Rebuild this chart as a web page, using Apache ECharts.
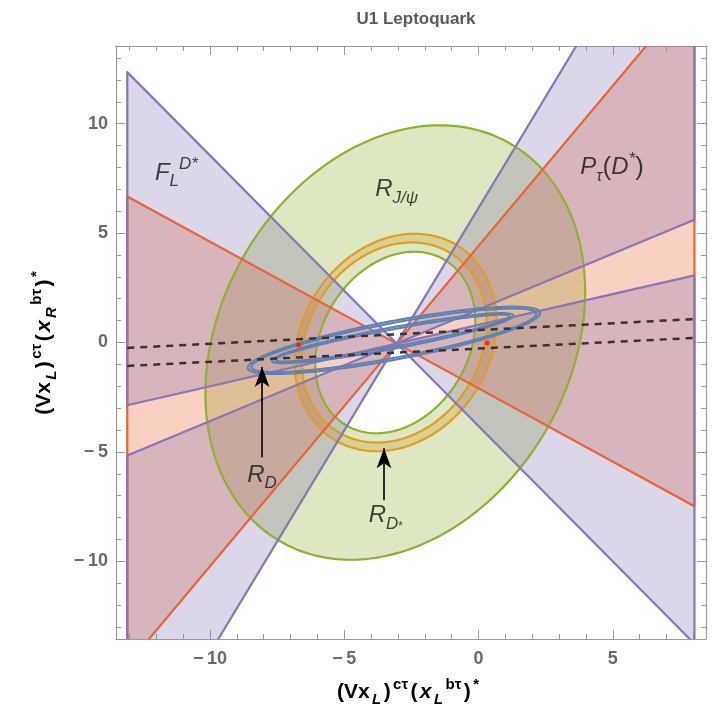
<!DOCTYPE html>
<html>
<head>
<meta charset="utf-8">
<script src="https://cdn.jsdelivr.net/npm/echarts@6/dist/echarts.min.js"></script>
<style>
  html, body { margin: 0; padding: 0; background: #ffffff; }
  #chart { width: 718px; height: 721px; }
</style>
</head>
<body>
<div id="chart"></div>
<script>
// ---- plot window ----
const xRange = [-13.5, 8.47];
const yRange = [-13.55, 13.55];
const xMajor = [-10, -5, 0, 5];
const yMajor = [-10, -5, 0, 5, 10];
const xMinor = [-13, -12, -11, -9, -8, -7, -6, -4, -3, -2, -1, 1, 2, 3, 4, 6, 7, 8];
const yMinor = [-13, -12, -11, -9, -8, -7, -6, -4, -3, -2, -1, 1, 2, 3, 4, 6, 7, 8, 9, 11, 12, 13];

// ---- constraint regions ----
// x-extent over which the regions were sampled
const xDomain = [-13.08, 8.04];
// common vertex of the angular (ratio) constraints
const vertex = [-3.05, -0.05];
// F_L(D*) allowed double wedges, [lower slope, upper slope]
const flWedges = [[-1.237, 0.281], [0.51, 2.033]];
// P_tau(D*) allowed double wedge
const ptauWedges = [[-0.670, 1.464]];
// ellipses as [cx, cy, p, q, r]:  x = cx + p cos t,  y = cy + q sin t + r cos t
const rjpsiRing = [[-3.1, 0, 7.07, 9.65, 2.33], [-3.1, 0, 2.98, 4.03, 0.98]];
const rdstarRing = [[-3.085, 0, 3.755, 4.88, 0.94], [-3.14, 0, 3.44, 4.49, 0.86]];
const rdBands = [
  [[-3.15, 0.1, 5.45, 0.9, 1.25], [-3.15, 0.1, 5.3, 0.8, 1.21]],
  [[-3.2, 0.2, 4.5, 0.5, 1.03], [-3.2, 0.2, 4.35, 0.4, 0.99]]
];
// dashed reference lines (end points)
const dashedA = [[-13.08, -0.25], [8.04, 1.07]];
const dashedB = [[-13.08, -1.07], [8.04, 0.21]];
// best-fit points
const bestFit = [[-6.70, -0.11], [0.32, -0.02]];
// annotation arrows [from, to]
const arrows = [[[-8.06, -5.24], [-8.06, -1.12]], [[-3.52, -7.21], [-3.52, -4.83]]];
// region labels [x, y, key]
const regionLabels = [
  [-11.25, 7.75, 'FL'],
  [-3.05, 7.0, 'RJ'],
  [4.97, 8.0, 'PT'],
  [-8.06, -6.05, 'RD'],
  [-3.45, -7.9, 'RDs']
];
const labelText = {
  FL: '{b|F}{sub|L}{sup|D*}',
  RJ: '{b|R}{sub|J/ψ}',
  PT: '{b|P}{sub|τ}{p|(}{b|D}{sup|*}{p|)}',
  RD: '{b|R}{sub|D}',
  RDs: '{b|R}{sub|D}{ss|*}'
};

// Mathematica-style palette
const C = {
  blue: '#5E81B5', orange: '#E19C24', green: '#8FB032', red: '#EB6235', purple: '#8778B3'
};
function rgba(hex, a) {
  const n = parseInt(hex.slice(1), 16);
  return 'rgba(' + (n >> 16) + ',' + ((n >> 8) & 255) + ',' + (n & 255) + ',' + a + ')';
}

function ellipsePts(e, api, reverse) {
  const [cx, cy, p, q, r] = e;
  const n = 240, pts = [];
  for (let i = 0; i < n; i++) {
    const t = (reverse ? -1 : 1) * 2 * Math.PI * i / n;
    pts.push(api.coord([cx + p * Math.cos(t), cy + q * Math.sin(t) + r * Math.cos(t)]));
  }
  return pts;
}
function toPath(pts) {
  return 'M' + pts.map(p => p[0].toFixed(2) + ' ' + p[1].toFixed(2)).join('L') + 'Z';
}
// filled annulus between two ellipses
function ringFill(outer, inner, hex, api) {
  const o = ellipsePts(outer, api, false);
  const i = ellipsePts(inner, api, true);
  return { type: 'path', shape: { pathData: toPath(o) + toPath(i) }, style: { fill: rgba(hex, 0.3), stroke: 'none' } };
}
function ringLines(outer, inner, hex, lw, api) {
  return [outer, inner].map(e => ({
    type: 'polygon', shape: { points: ellipsePts(e, api, false) },
    style: { fill: 'none', stroke: hex, lineWidth: lw }
  }));
}
function wedgePolys(s, api) {
  const xv = vertex[0], yv = vertex[1];
  return xDomain.map(xe =>
    [vertex, [xe, yv + s[0] * (xe - xv)], [xe, yv + s[1] * (xe - xv)]].map(p => api.coord(p)));
}
function wedgeFill(s, hex, api) {
  return wedgePolys(s, api).map(pts => ({
    type: 'polygon', shape: { points: pts }, style: { fill: rgba(hex, 0.3), stroke: 'none' }
  }));
}
function wedgeLines(s, hex, api) {
  return wedgePolys(s, api).map(pts => ({
    type: 'polygon', shape: { points: pts },
    style: { fill: 'none', stroke: hex, lineWidth: 2.2, lineJoin: 'round' }
  }));
}

// all region fills first, boundaries on top
function renderFills(params, api) {
  const ch = [];
  rdBands.forEach(b => ch.push(ringFill(b[0], b[1], C.blue, api)));
  ch.push(ringFill(rdstarRing[0], rdstarRing[1], C.orange, api));
  ch.push(ringFill(rjpsiRing[0], rjpsiRing[1], C.green, api));
  ptauWedges.forEach(w => ch.push(...wedgeFill(w, C.red, api)));
  flWedges.forEach(w => ch.push(...wedgeFill(w, C.purple, api)));
  return { type: 'group', children: ch };
}
function renderLines(params, api) {
  const ch = [];
  ch.push(...ringLines(rdstarRing[0], rdstarRing[1], C.orange, 2.2, api));
  ch.push(...ringLines(rjpsiRing[0], rjpsiRing[1], C.green, 2.2, api));
  ptauWedges.forEach(w => ch.push(...wedgeLines(w, C.red, api)));
  flWedges.forEach(w => ch.push(...wedgeLines(w, C.purple, api)));
  rdBands.forEach(b => ch.push(...ringLines(b[0], b[1], C.blue, 2, api)));
  return { type: 'group', children: ch };
}

const tickFont = { fontFamily: 'Liberation Sans', fontWeight: 'bold', fontSize: 18, color: '#6a6a6a' };
const frameColor = '#9a9a9a';
const minus = v => String(v).replace('-', '\u2212\u2009');

function axes(dim) {
  const range = dim === 'x' ? xRange : yRange;
  const major = dim === 'x' ? xMajor : yMajor;
  const minor = dim === 'x' ? xMinor : yMinor;
  const sides = dim === 'x' ? ['bottom', 'top'] : ['left', 'right'];
  const out = [];
  sides.forEach((side, k) => {
    [major, minor].forEach((vals, m) => {
      out.push({
        type: 'value', position: side, min: range[0], max: range[1],
        axisLine: { show: m === 0, onZero: false, lineStyle: { color: frameColor, width: 1.2 } },
        axisTick: { show: true, inside: true, length: m === 0 ? 9 : 5, customValues: vals,
                    lineStyle: { color: frameColor, width: 1 } },
        axisLabel: Object.assign({ show: k === 0 && m === 0, customValues: vals, formatter: minus,
                    margin: dim === 'x' ? 11 : 8 }, tickFont),
        splitLine: { show: false }
      });
    });
  });
  return out;
}

const nameBase = { fontFamily: 'Liberation Sans', fontWeight: 'bold', color: '#5a5a5a', padding: [0, 1.2] };
const axisNameRich = {
  t: Object.assign({ fontSize: 21, lineHeight: 30, verticalAlign: 'middle' }, nameBase),
  i: Object.assign({ fontSize: 21, fontStyle: 'italic', lineHeight: 30, verticalAlign: 'middle' }, nameBase),
  s: Object.assign({ fontSize: 15, fontStyle: 'italic', lineHeight: 13, verticalAlign: 'bottom' }, nameBase),
  u: Object.assign({ fontSize: 15, lineHeight: 15, verticalAlign: 'top' }, nameBase)
};
const labelBase = { fontFamily: 'Liberation Sans', color: '#141414' };
const labelRich = {
  b: Object.assign({ fontStyle: 'italic', fontSize: 24, lineHeight: 34, verticalAlign: 'middle' }, labelBase),
  p: Object.assign({ fontSize: 26, lineHeight: 34, verticalAlign: 'middle' }, labelBase),
  sub: Object.assign({ fontStyle: 'italic', fontSize: 17, lineHeight: 15, verticalAlign: 'bottom' }, labelBase),
  sup: Object.assign({ fontStyle: 'italic', fontSize: 17, lineHeight: 17, verticalAlign: 'top' }, labelBase),
  ss: Object.assign({ fontSize: 12, lineHeight: 24, verticalAlign: 'bottom' }, labelBase)
};

const chart = echarts.init(document.getElementById('chart'));
chart.setOption({
  animation: false,
  backgroundColor: '#ffffff',
  title: {
    text: 'U1 Leptoquark', left: 411, top: 6, textAlign: 'center',
    textStyle: { fontFamily: 'Liberation Sans', fontWeight: 'bold', fontSize: 17, color: '#5a5a5a' }
  },
  grid: { left: 116, right: 12, top: 46, bottom: 82, containLabel: false },
  xAxis: axes('x'),
  yAxis: axes('y'),
  graphic: [
    { type: 'text', x: 408, y: 692, style: {
        text: '{t|(Vx}{s|L}{t|)}{u|cτ}{t|(}{i|x}{s|L}{u|bτ}{t|)}{u|*}',
        rich: axisNameRich, align: 'center', verticalAlign: 'middle' } },
    { type: 'text', x: 44, y: 343, rotation: Math.PI / 2, style: {
        text: '{t|(Vx}{s|L}{t|)}{u|cτ}{t|(}{i|x}{s|R}{u|bτ}{t|)}{u|*}',
        rich: axisNameRich, align: 'center', verticalAlign: 'middle' } }
  ],
  series: [
    { type: 'custom', name: 'region fills', clip: true, data: [[0]], renderItem: renderFills, z: 2 },
    { type: 'custom', name: 'region boundaries', clip: true, data: [[0]], renderItem: renderLines, z: 3 },
    { type: 'line', data: dashedA, symbol: 'none', z: 5,
      lineStyle: { type: [7, 6], width: 2.5, color: '#3e2f33' } },
    { type: 'line', data: dashedB, symbol: 'none', z: 5,
      lineStyle: { type: [7, 6], width: 2.5, color: '#3e2f33' } },
    { type: 'scatter', data: bestFit, symbolSize: 5, z: 6, itemStyle: { color: '#ff1010' },
      markLine: {
        silent: true, symbol: ['none', 'arrow'], symbolSize: [11, 20],
        label: { show: false },
        lineStyle: { color: '#000000', width: 1.6, type: 'solid' },
        data: arrows.map(a => [{ coord: a[0] }, { coord: a[1] }])
      } },
    { type: 'scatter', data: regionLabels, symbolSize: 1, z: 7,
      itemStyle: { color: 'rgba(0,0,0,0)' },
      label: {
        show: true, position: 'inside',
        formatter: p => labelText[p.data[2]],
        rich: labelRich
      } }
  ]
});
</script>
</body>
</html>
